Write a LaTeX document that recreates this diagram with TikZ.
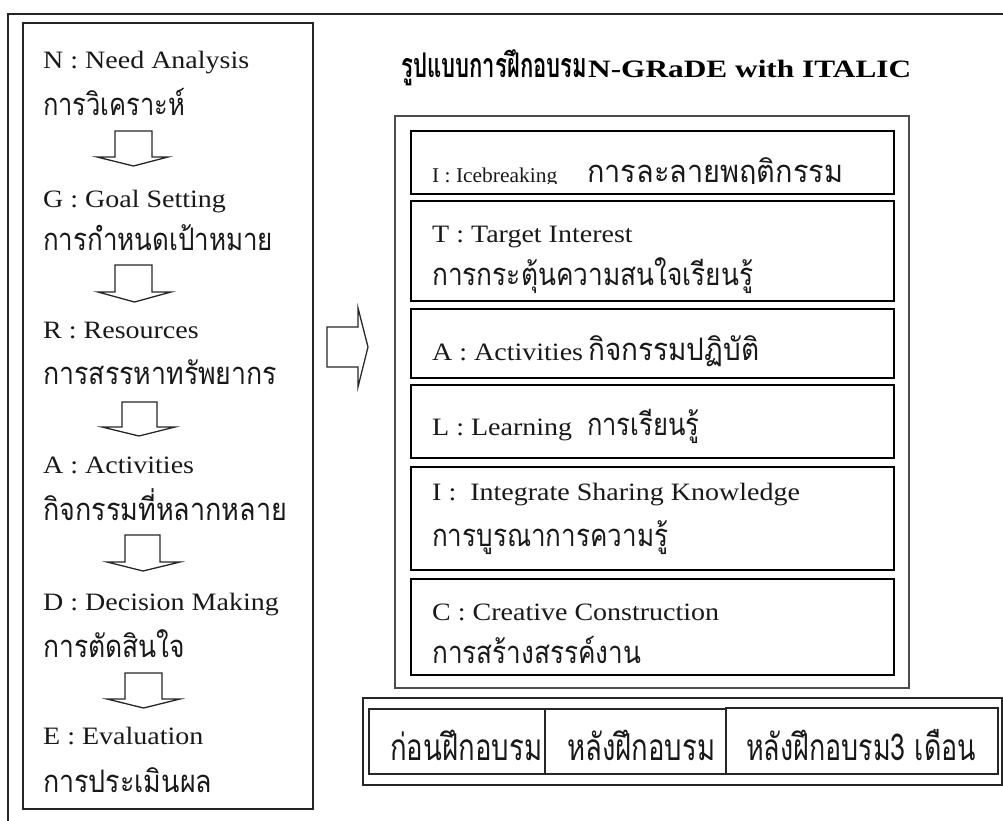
\documentclass[tikz,border=0pt]{standalone}
\usepackage{fontspec}
\setmainfont{Liberation Serif}[FakeStretch=1.12]
\newfontfamily\thaifont[Script=Thai]{Loma}
\newfontfamily\titlefont{Liberation Serif}[FakeStretch=1.22]
% set a text to a given width, keeping its height
\newcommand{\wfit}[2]{\resizebox{#1pt}{\height}{#2}}

\begin{document}
\begin{tikzpicture}[x=1pt,y=-1pt,
  lat/.style={anchor=base west, inner sep=0pt, text=black!90,
    font=\fontsize{25}{30}\selectfont},
  latsmall/.style={lat, font=\fontsize{21}{25}\selectfont},
  tha/.style={anchor=base west, inner sep=0pt, text=black!90,
    font=\thaifont\fontsize{31}{34}\selectfont},
  thabig/.style={anchor=base west, inner sep=0pt, text=black!90,
    font=\thaifont\fontsize{37}{40}\selectfont},
  titlelat/.style={anchor=base west, inner sep=0pt, text=black,
    font=\titlefont\bfseries\fontsize{25}{30}\selectfont},
  titletha/.style={anchor=base west, inner sep=0pt, text=black,
    font=\thaifont\bfseries\fontsize{34}{36}\selectfont},
  frame/.style={draw=black!85, line width=1.5pt},
  outerbox/.style={draw=black!70, line width=1.8pt},
  stepbox/.style={draw=black, line width=2pt},
  cellbox/.style={draw=black!85, line width=1.3pt},
  blockarrow/.style={draw=black!85, line width=1.3pt, line join=miter, fill=white}]

\useasboundingbox (0,0) rectangle (1003,820);

% page frame (right and bottom sides run off the page)
\draw[frame] (8,830) -- (8,14) -- (1010,14);

% left column: N-GRaDE steps
\draw[frame] (23,23) rectangle (313,809);
\node[lat] (n1) at (43,68) {N : Need Analysis};
\node[tha] (n2) at (43,115) {\wfit{142}{การวิเคราะห์}};
\node[lat] (g1) at (43,207) {G : Goal Setting};
\node[tha] (g2) at (43,250) {\wfit{230}{การกำหนดเป้าหมาย}};
\node[lat] (r1) at (43,338) {R : Resources};
\node[tha] (r2) at (43,384) {\wfit{234}{การสรรหาทรัพยากร}};
\node[lat] (a1) at (43,473) {A : Activities};
\node[tha] (a2) at (43,520) {\wfit{244}{กิจกรรมที่หลากหลาย}};
\node[lat] (d1) at (43,610) {D : Decision Making};
\node[tha] (d2) at (43,657) {\wfit{142}{การตัดสินใจ}};
\node[lat] (e1) at (43,744) {E : Evaluation};
\node[tha] (e2) at (43,792) {\wfit{169}{การประเมินผล}};

% down block arrows between the steps
\draw[blockarrow] (115,131) -- (152,131) -- (152,157) -- (168,157) -- (133.5,166) -- (97,157) -- (115,157) -- cycle;
\draw[blockarrow] (115,265) -- (152,265) -- (152,292) -- (171,292) -- (134.5,302) -- (98,292) -- (115,292) -- cycle;
\draw[blockarrow] (122,402) -- (157,402) -- (157,427) -- (175,427) -- (139,436) -- (102,427) -- (122,427) -- cycle;
\draw[blockarrow] (125,535) -- (160,535) -- (160,562) -- (180,562) -- (143,571) -- (107,562) -- (125,562) -- cycle;
\draw[blockarrow] (125,673) -- (162,673) -- (162,699) -- (180,699) -- (143.5,708) -- (107,699) -- (125,699) -- cycle;

% right block arrow
\draw[blockarrow] (327,327) -- (358,327) -- (358,308) -- (368,347) -- (358,387) -- (358,367) -- (327,367) -- cycle;

% title
\node[titletha] (tt) at (401,77) {\wfit{186}{รูปแบบการฝึกอบรม}};
\node[titlelat] (tl) at (588,77) {\wfit{323}{N-GRaDE with ITALIC}};

% ITALIC steps
\draw[outerbox] (395,116) rectangle (909,688);

\draw[stepbox] (411,131) rectangle (894,194);
\begin{scope}
  \clip (411,131) rectangle (894,183.5);
  \node[latsmall] (i1) at (432,182) {\wfit{125}{I : Icebreaking}};
  \node[tha] (i2) at (587,182) {\wfit{256}{การละลายพฤติกรรม}};
\end{scope}

\draw[stepbox] (411,201) rectangle (894,301);
\node[lat] (t1) at (432,242) {T : Target Interest};
\node[tha] (t2) at (432,285) {\wfit{321}{การกระตุ้นความสนใจเรียนรู้}};

\draw[stepbox] (411,309) rectangle (894,378);
\node[lat] (aa1) at (432,360) {A : Activities};
\node[tha] (aa2) at (588,360) {\wfit{171}{กิจกรรมปฏิบัติ}};

\draw[stepbox] (411,385) rectangle (894,458);
\node[lat] (l1) at (432,435) {L : Learning};
\node[tha] (l2) at (587,435) {\wfit{112}{การเรียนรู้}};

\draw[stepbox] (411,467) rectangle (894,570);
\node[lat] (s1) at (432,500) {I :\ \ Integrate Sharing Knowledge};
\node[tha] (s2) at (432,546) {\wfit{236}{การบูรณาการความรู้}};

\draw[stepbox] (411,579) rectangle (894,675);
\node[lat] (c1) at (432,620) {C : Creative Construction};
\node[tha] (c2) at (432,663) {\wfit{209}{การสร้างสรรค์งาน}};

% evaluation times
\draw[frame] (363,698) rectangle (1002,785);
\draw[cellbox] (369,709) rectangle (545,774);
\draw[cellbox] (545,709) rectangle (726,774);
\draw[cellbox] (726,708) rectangle (998,774);
\node[thabig] (b1) at (390,760) {\wfit{152}{ก่อนฝึกอบรม}};
\node[thabig] (b2) at (567,760) {\wfit{148}{หลังฝึกอบรม}};
\node[thabig] (b3) at (746,760) {\wfit{230}{หลังฝึกอบรม3 เดือน}};

\end{tikzpicture}
\end{document}
